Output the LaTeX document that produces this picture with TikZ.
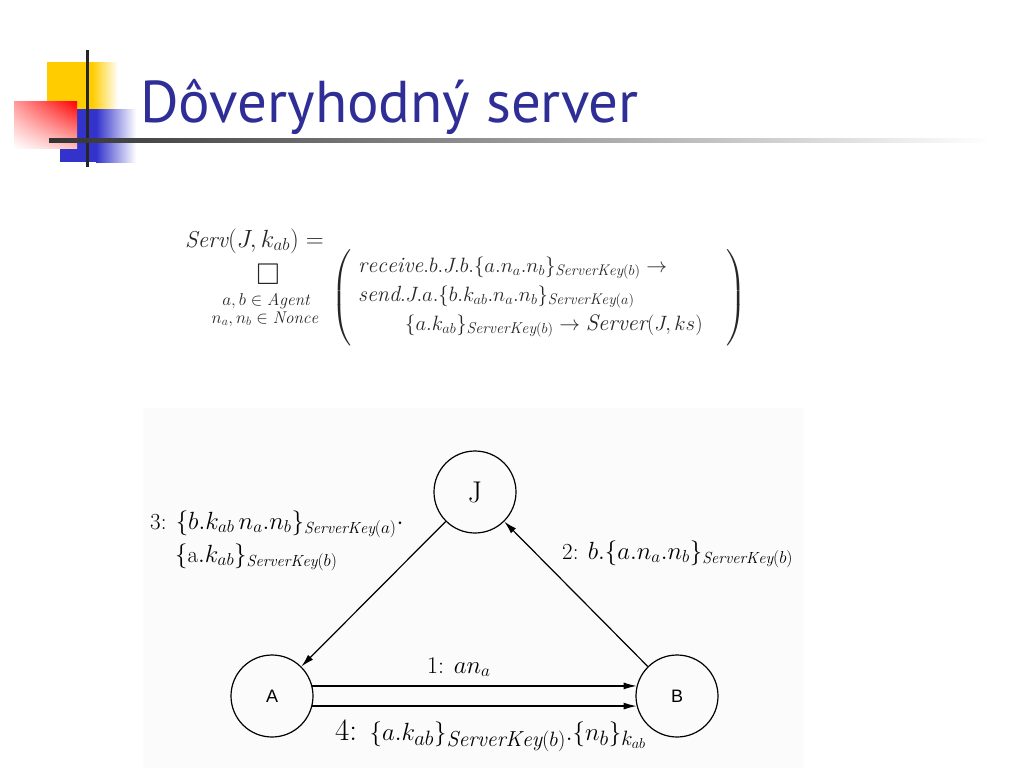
\documentclass[tikz,border=0pt]{standalone}
\usepackage{fontspec}
\usepackage{amsmath,amssymb}
\setsansfont{Liberation Sans}
\newfontfamily\titlefont{PT Sans}
\definecolor{titleblue}{RGB}{46,46,150}
\definecolor{logoyellow}{RGB}{255,204,0}
\definecolor{logoblue}{RGB}{51,51,204}
\definecolor{panelgray}{RGB}{251,251,251}
\usetikzlibrary{arrows.meta,shadings}

\begin{document}
\begin{tikzpicture}[x=1pt,y=-1pt,
  state/.style={draw,circle,line width=1.2pt,minimum size=82pt,inner sep=0pt},
  arr/.style={-{Latex[length=13pt,width=7pt]},line width=1.2pt},
  msg/.style={anchor=base west,inner sep=0pt,font=\fontsize{23}{27}\selectfont},
  fml/.style={anchor=base west,inner sep=0pt,font=\fontsize{22}{27}\selectfont,black!85},
  fmlsmall/.style={anchor=base,inner sep=0pt,font=\fontsize{17}{19}\selectfont,black!85},
  paren/.style={inner sep=0pt,font=\fontsize{23}{27}\selectfont,black!85}
]
  \useasboundingbox (0,0) rectangle (1024,768);

  % Logo
  \fill[logoyellow] (47,62) rectangle (92,112);
  \shade[left color=logoyellow,right color=white] (92,62) rectangle (118,112);
  \fill[logoblue] (60,109) rectangle (96,162);
  \shade[left color=logoblue,right color=white] (96,109) rectangle (136,162);
  \shade[upper right=red,upper left=red!40,lower right=red!25,lower left=white]
    (14,101) rectangle (77,148);
  \draw[line width=3pt,black!85] (87,50) -- (87,167);
  \shade[left color=black!80,right color=white] (49,138) rectangle (990,142);

  % Title
  \node[anchor=base west,inner sep=0pt,font=\titlefont\fontsize{59}{65}\selectfont,titleblue]
    (title) at (140,122) {Dôveryhodný server};

  % Process definition
  \node[fml,font=\fontsize{23}{27}\selectfont] (serv) at (185,247) {$\mathit{Serv}(J,k_{ab}) =$};
  \node[font=\fontsize{30}{32}\selectfont,black!85] (choice) at (268,274) {$\Box$};
  \node[fmlsmall] (agents) at (266,305) {$a,b\in \mathit{Agent}$};
  \node[fmlsmall] (nonces) at (265,323) {$n_a,n_b\in \mathit{Nonce}$};
  \node[paren] (lpar) at (342,298) {$\left(\vrule height 42pt depth 42pt width 0pt\right.$};
  \node[paren] (rpar) at (736,298) {$\left.\vrule height 42pt depth 42pt width 0pt\right)$};
  \node[fml] (recv) at (358,272)
    {$\mathit{receive}.b.J.b.\{a.n_a.n_b\}_{\mathit{ServerKey}(b)}\rightarrow$};
  \node[fml] (send) at (358,301)
    {$\mathit{send}.J.a.\{b.k_{ab}.n_a.n_b\}_{\mathit{ServerKey}(a)}$};
  \node[fml,font=\fontsize{22.5}{27}\selectfont] (reply) at (405,330)
    {$\{a.k_{ab}\}_{\mathit{ServerKey}(b)}\rightarrow \mathit{Server}(J,ks)$};

  % Protocol diagram
  \fill[panelgray] (143,408) rectangle (803,768);
  \node[state,font=\fontsize{30}{32}\selectfont] (J) at (475,492) {J};
  \node[state,font=\sffamily\fontsize{18}{20}\selectfont] (A) at (272,696) {A};
  \node[state,font=\sffamily\fontsize{18}{20}\selectfont] (B) at (677,696) {B};

  \draw[arr] (J) -- (A);
  \draw[arr] (B) -- (J);
  \draw[arr] (A.14) -- (B.166);
  \draw[arr] (A.-14) -- (B.-166);

  % Messages
  \node[msg] (m3) at (150,529) {3: $\{b.k_{ab}\,n_a.n_b\}_{\mathit{ServerKey}(a)}\cdot$};
  \node[msg] (m3b) at (175,562) {$\{\mathrm{a}.k_{ab}\}_{\mathit{ServerKey}(b)}$};
  \node[msg] (m2) at (562,559) {2: $b.\{a.n_a.n_b\}_{\mathit{ServerKey}(b)}$};
  \node[msg,font=\fontsize{24}{28}\selectfont] (m1) at (427,673) {1: $an_a$};
  \node[msg,font=\fontsize{31}{34}\selectfont] (m4) at (335,740)
    {4: $\{a.k_{ab}\}_{\mathit{ServerKey}(b)}.\{n_b\}_{k_{ab}}$};
\end{tikzpicture}
\end{document}
